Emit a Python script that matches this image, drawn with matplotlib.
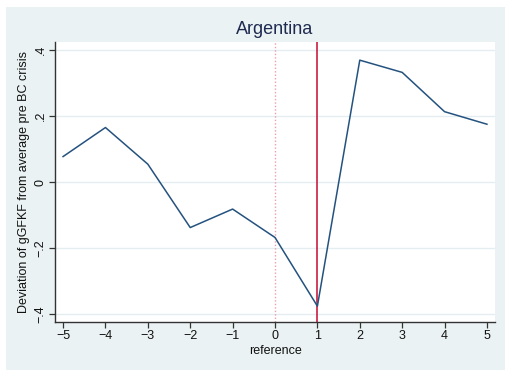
import matplotlib
matplotlib.use("Agg")
import matplotlib.pyplot as plt
from matplotlib.patches import Rectangle

# Event-time window and deviation of gGFKF for Argentina
reference = [-5, -4, -3, -2, -1, 0, 1, 2, 3, 4, 5]
deviation = [0.077, 0.165, 0.054, -0.138, -0.082, -0.168, -0.376, 0.369, 0.332, 0.213, 0.175]
y_ticks = [-0.4, -0.2, 0.0, 0.2, 0.4]
y_tick_labels = ["\u2212.4", "\u2212.2", "0", ".2", ".4"]
x_ticks = [-5, -4, -3, -2, -1, 0, 1, 2, 3, 4, 5]
x_tick_labels = ["\u22125", "\u22124", "\u22123", "\u22122", "\u22121", "0", "1", "2", "3", "4", "5"]

plt.rcParams["font.family"] = ["Liberation Sans", "DejaVu Sans"]

W, H = 505, 370
fig = plt.figure(figsize=(W / 100, H / 100), dpi=100)
fig.patch.set_facecolor("white")
bg = "#EAF2F3"

# graph region background
bg_ax = fig.add_axes([0, 0, 1, 1], zorder=-1)
bg_ax.set_axis_off()
bg_ax.add_patch(Rectangle((6 / W, 0), 1 - 6 / W, 1 - 7 / H,
                          transform=bg_ax.transAxes, facecolor=bg,
                          edgecolor="none"))

left, right, top, bottom = 55, 495, 42, 322
ax = fig.add_axes([left / W, 1 - bottom / H, (right - left) / W, (bottom - top) / H], zorder=1)
ax.set_facecolor("white")

ax.set_xlim(-5.19, 5.19)
ax.set_ylim(-0.424, 0.424)

for yv in y_ticks:
    ax.axhline(yv, color="#E4EEF0", lw=1.0, zorder=1)

ax.axvline(0, color="#E8A0B0", lw=1.0, ls=(0, (1, 1.5)), zorder=2)
ax.axvline(1, color="#C30A32", lw=1.1, zorder=2)
ax.plot(reference, deviation, color="#24527F", lw=1.1, zorder=3)

for s in ["top", "right"]:
    ax.spines[s].set_visible(False)
for s in ["left", "bottom"]:
    ax.spines[s].set_color("#333333")
    ax.spines[s].set_linewidth(1.0)

ax.set_xticks(x_ticks)
ax.set_xticklabels(x_tick_labels, fontsize=9)
ax.set_yticks(y_ticks)
ax.set_yticklabels(y_tick_labels, fontsize=9, rotation=90, va="center")
ax.tick_params(axis="both", direction="out", length=4, width=0.9,
               color="#333333", labelcolor="#111111", pad=2)

ax.set_xlabel("reference", fontsize=9, color="#111111", labelpad=2)
ax.set_ylabel("Deviation of gGFKF from average pre BC crisis", fontsize=9,
              color="#111111", labelpad=3)

fig.text((left + right) / 2 / W, 1 - 29 / H, "Argentina", ha="center",
         va="center", fontsize=13, color="#1E2A50")

fig.savefig("out.png", dpi=100, facecolor=fig.get_facecolor())
